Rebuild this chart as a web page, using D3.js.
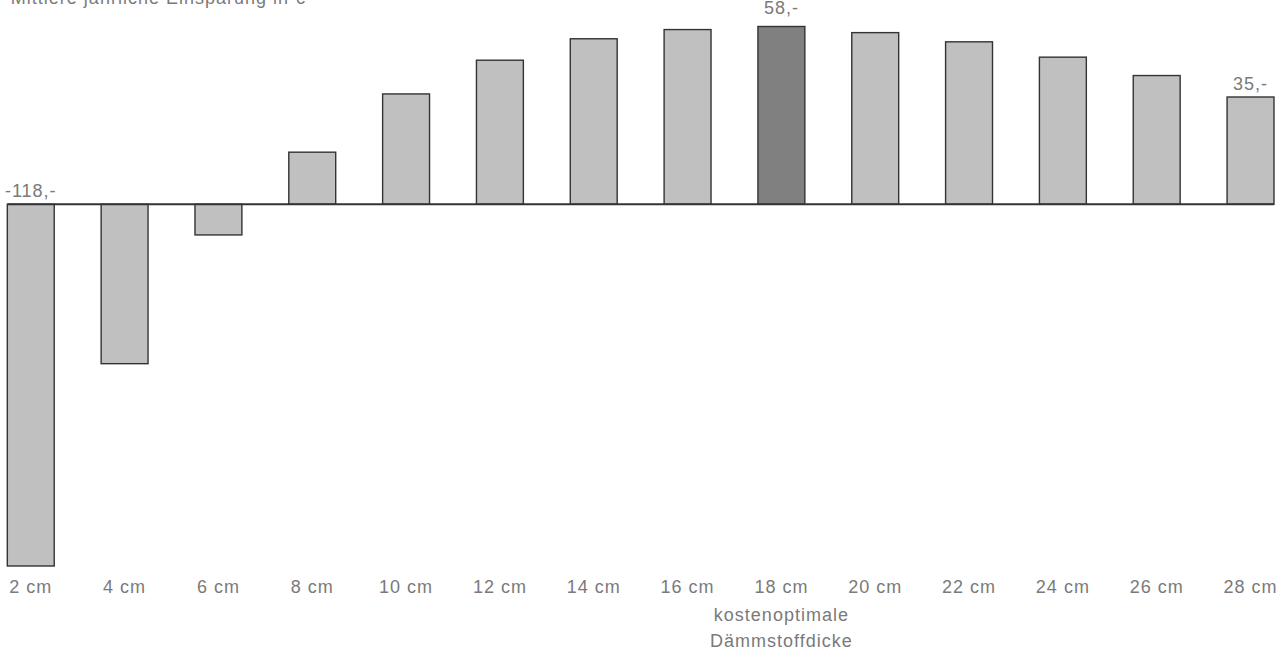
<!DOCTYPE html>
<html>
<head>
<meta charset="utf-8">
<script src="https://cdn.jsdelivr.net/npm/d3@7"></script>
<style>
  html, body { margin: 0; padding: 0; background: #fff; }
  svg { display: block; }
  text { font-family: "Liberation Sans", Arial, sans-serif; fill: #7a7a7a; letter-spacing: 1px; }
</style>
</head>
<body>
<svg id="chart" width="1285" height="651"></svg>
<script>
// Dämmstoffdicke (cm) und mittlere jährliche Einsparung (€)
const categories = ["2 cm", "4 cm", "6 cm", "8 cm", "10 cm", "12 cm", "14 cm",
                    "16 cm", "18 cm", "20 cm", "22 cm", "24 cm", "26 cm", "28 cm"];
const savings = [-118, -52, -10, 17, 36, 47, 54, 57, 58, 56, 53, 48, 42, 35];
const valueLabels = [
  { cat: "2 cm", text: "-118,-" },
  { cat: "18 cm", text: "58,-" },
  { cat: "28 cm", text: "35,-" }
];
const optimum = "18 cm";
const optimumNote = ["kostenoptimale", "Dämmstoffdicke"];
const yTitle = "Mittlere jährliche Einsparung in €";

const svg = d3.select("#chart");
const fontSize = "18px";

const x = d3.scaleBand()
  .domain(categories)
  .range([-39.6, 1320.9])
  .padding(0.5);

const y = d3.scaleLinear()
  .domain([-118, 58])
  .range([566, 26.5]);

const data = categories.map((c, i) => ({ cat: c, value: savings[i] }));

// Achsentitel (oben links, läuft über den oberen Rand hinaus)
svg.append("text")
  .attr("x", 306)
  .attr("y", 4)
  .attr("text-anchor", "end")
  .style("font-size", fontSize)
  .text(yTitle);

// Balken
svg.append("g")
  .selectAll("rect")
  .data(data)
  .join("rect")
  .attr("x", d => x(d.cat))
  .attr("width", x.bandwidth())
  .attr("y", d => y(Math.max(0, d.value)))
  .attr("height", d => Math.abs(y(d.value) - y(0)))
  .attr("fill", d => d.cat === optimum ? "#808080" : "#c0c0c0")
  .attr("stroke", "#333")
  .attr("stroke-width", 1.4);

// Nulllinie
svg.append("line")
  .attr("x1", x(categories[0]))
  .attr("x2", x(categories[categories.length - 1]) + x.bandwidth())
  .attr("y1", y(0))
  .attr("y2", y(0))
  .attr("stroke", "#333")
  .attr("stroke-width", 2);

// Kategorienachse unten
const xAxis = d3.axisBottom(x).tickSize(0).tickPadding(0);
const gx = svg.append("g")
  .attr("transform", "translate(0,593)")
  .call(xAxis);
gx.select(".domain").remove();
gx.selectAll("text")
  .attr("dy", 0)
  .attr("y", 0)
  .style("font-size", fontSize)
  .style("font-family", "'Liberation Sans', Arial, sans-serif")
  .attr("fill", "#7a7a7a");

// Wertbeschriftungen
svg.append("g")
  .selectAll("text")
  .data(valueLabels)
  .join("text")
  .attr("x", d => x(d.cat) + x.bandwidth() / 2)
  .attr("y", d => {
    const v = savings[categories.indexOf(d.cat)];
    const top = y(Math.max(0, v));
    return top - (d.cat === optimum ? 13 : 7);
  })
  .attr("text-anchor", "middle")
  .style("font-size", fontSize)
  .text(d => d.text);

// Hinweis zur kostenoptimalen Dicke
svg.append("g")
  .selectAll("text")
  .data(optimumNote)
  .join("text")
  .attr("x", x(optimum) + x.bandwidth() / 2)
  .attr("y", (d, i) => 621 + i * 26)
  .attr("text-anchor", "middle")
  .style("font-size", fontSize)
  .text(d => d);
</script>
</body>
</html>
